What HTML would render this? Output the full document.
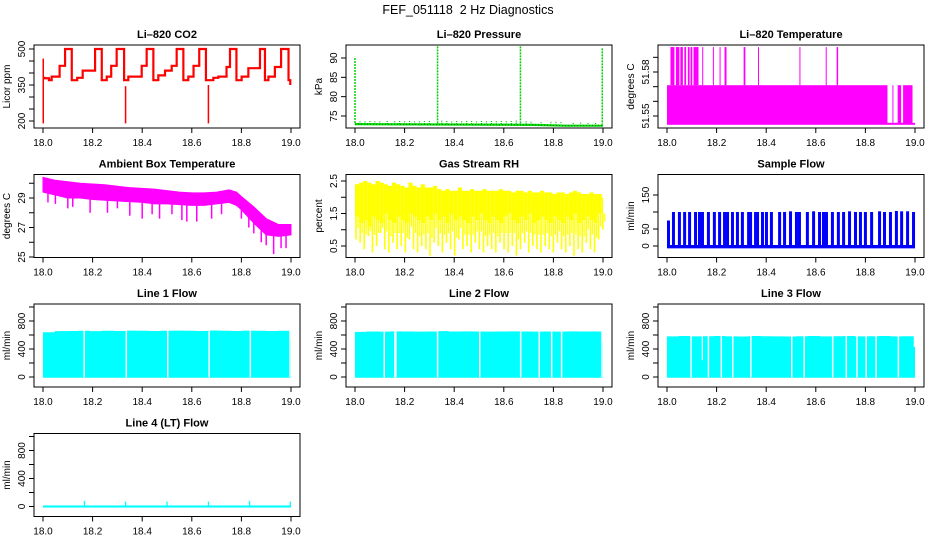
<!DOCTYPE html>
<html><head><meta charset="utf-8"><title>FEF_051118 2 Hz Diagnostics</title>
<style>
html,body{margin:0;padding:0;background:#fff;}
svg{display:block;font-family:"Liberation Sans",Arial,sans-serif;}
.tt{font-size:11px;font-weight:bold;}
.tk{font-size:10px;}
</style></head>
<body>
<svg id="chart" width="936" height="540" viewBox="0 0 936 540" xmlns="http://www.w3.org/2000/svg">
<rect width="936" height="540" fill="#fff"/>
<text x="468" y="14" text-anchor="middle" font-size="12.5">FEF_051118&#160; 2 Hz Diagnostics</text>
</svg>
<script>
// ---------- data ----------
const xTicks = [18.0, 18.2, 18.4, 18.6, 18.8, 19.0];
const xTickLabels = ["18.0", "18.2", "18.4", "18.6", "18.8", "19.0"];

// CO2 stepped series (time, ppm)
const co2Times = [18.000,18.006,18.024,18.035,18.067,18.089,18.116,18.138,18.160,18.210,18.237,18.257,18.275,18.297,18.327,18.344,18.398,18.418,18.445,18.465,18.492,18.519,18.539,18.566,18.586,18.607,18.630,18.657,18.687,18.707,18.740,18.754,18.780,18.801,18.828,18.875,18.895,18.909,18.935,18.960,18.990,18.997];
const co2Vals  = [380,378,370,385,430,500,370,380,410,500,370,385,430,500,370,385,430,500,370,390,410,430,500,370,385,430,500,370,380,385,425,500,370,385,420,500,370,385,425,500,370,350];
const co2SpikeTimes = [18.001, 18.333, 18.667];
const co2SpikeHigh  = [460, 345, 350];
const co2SpikeLow   = [190, 190, 190];

// Pressure
const presBaseTimes = [18.0, 18.72, 18.85, 19.0];
const presBaseVals  = [72.9, 72.7, 72.5, 72.5];
const presBumpTimes = [18.02,18.04,18.06,18.08,18.10,18.13,18.16,18.18,18.20,18.22,18.24,18.26,18.28,18.30,18.35,18.37,18.39,18.41,18.43,18.45,18.47,18.49,18.51,18.53,18.55,18.57,18.59,18.61,18.63,18.65,18.69,18.71,18.75,18.79,18.81,18.83,18.88,18.91,18.94,18.97];
const presBumpVals  = [73.6,73.6,73.7,73.6,73.6,73.7,73.6,73.7,73.6,73.7,73.6,73.6,73.7,73.7,73.8,73.7,73.6,73.7,73.6,73.7,73.7,73.6,73.7,73.6,73.7,73.6,73.7,73.6,73.7,73.8,73.6,73.5,73.4,73.5,73.5,73.4,73.2,73.3,73.2,73.2];
const presSpikeTimes = [18.000, 18.333, 18.667, 18.997];
const presSpikeVals  = [90.0, 93.0, 93.0, 92.5];

// Li-820 temperature levels & spikes
const tempLow = 51.544, tempMid = 51.571, tempTop = 51.597;
const tempMidEnd = 18.99, tempLowEnd = 19.0, tempStart = 18.0;
const tempSpikeStart = [18.014,18.036,18.054,18.070,18.084,18.095,18.107,18.142,18.185,18.212,18.232,18.309,18.367,18.534,18.640,18.684];
const tempSpikeEnd   = [18.030,18.050,18.064,18.077,18.091,18.102,18.127,18.144,18.187,18.214,18.240,18.316,18.369,18.536,18.642,18.690];
const tempGapStart = [18.889, 18.913, 18.944];
const tempGapEnd   = [18.909, 18.930, 18.952];

// Ambient box temperature envelope
const ambTimes = [18.0,18.05,18.1,18.15,18.2,18.25,18.3,18.35,18.4,18.45,18.5,18.55,18.6,18.65,18.7,18.75,18.78,18.8,18.85,18.9,18.95,19.0];
const ambUpper = [30.4,30.2,30.1,30.0,29.95,29.9,29.8,29.7,29.65,29.6,29.5,29.4,29.35,29.35,29.4,29.55,29.4,29.1,28.4,27.6,27.2,27.2];
const ambLower = [29.4,29.2,29.0,29.0,28.9,28.85,28.8,28.75,28.7,28.6,28.6,28.55,28.5,28.5,28.6,28.7,28.5,28.2,27.3,26.5,26.4,26.5];
const ambSpikeTimes = [18.02,18.05,18.1,18.12,18.19,18.26,18.3,18.35,18.4,18.44,18.47,18.52,18.56,18.58,18.62,18.68,18.72,18.8,18.83,18.85,18.88,18.9,18.93,18.96,18.98];
const ambSpikeVals  = [28.7,28.6,28.3,28.4,28.0,28.0,28.3,27.8,27.6,27.9,27.6,27.9,27.5,27.4,27.4,27.6,27.9,27.6,27.0,26.6,26.0,25.8,25.2,25.6,25.6];

// Gas stream RH (61 bins)
const rhMax = [2.4,2.45,2.5,2.45,2.4,2.5,2.45,2.4,2.35,2.45,2.4,2.35,2.3,2.45,2.35,2.3,2.4,2.3,2.3,2.35,2.25,2.2,2.25,2.2,2.2,2.3,2.2,2.2,2.25,2.2,2.2,2.25,2.2,2.2,2.2,2.25,2.2,2.2,2.15,2.2,2.2,2.15,2.2,2.15,2.15,2.2,2.15,2.15,2.1,2.15,2.15,2.1,2.15,2.2,2.15,2.1,2.1,2.15,2.1,2.1,2.0];
const rhMid = [1.4,1.2,1.3,1.1,1.4,1.3,1.2,1.5,1.3,1.2,1.4,1.3,1.2,1.5,1.4,1.3,1.2,1.4,1.3,1.5,1.3,1.4,1.2,1.5,1.3,1.4,1.3,1.2,1.4,1.3,1.5,1.3,1.2,1.4,1.3,1.2,1.4,1.5,1.3,1.2,1.4,1.3,1.5,1.2,1.3,1.4,1.3,1.2,1.4,1.3,1.2,1.4,1.3,1.5,1.2,1.3,1.4,1.3,1.2,1.5,1.5];
const rhMin = [0.7,0.6,0.4,0.8,0.3,0.5,0.9,0.4,0.3,0.6,0.4,0.5,0.3,0.7,0.4,0.3,0.5,0.4,0.2,0.6,0.5,0.3,0.6,0.4,0.2,0.7,0.4,0.5,0.3,0.6,0.4,0.3,0.5,0.4,0.3,0.6,0.4,0.3,0.5,0.2,0.4,0.6,0.3,0.5,0.4,0.3,0.5,0.4,0.3,0.6,0.4,0.3,0.5,0.2,0.4,0.3,0.6,0.4,0.3,0.7,1.0];

// Sample flow pulses
const sampPulseTimes = [18.000,18.020,18.044,18.065,18.085,18.109,18.125,18.137,18.161,18.185,18.206,18.226,18.238,18.258,18.278,18.298,18.323,18.331,18.351,18.359,18.379,18.395,18.415,18.448,18.468,18.492,18.516,18.528,18.560,18.585,18.609,18.625,18.637,18.661,18.685,18.706,18.730,18.754,18.774,18.794,18.819,18.851,18.871,18.895,18.919,18.940,18.964,18.988];
const sampPulseVals  = [75,100,100,100,100,100,100,100,100,100,100,100,100,100,100,100,100,100,100,100,100,100,100,100,100,102,100,100,100,102,100,100,100,100,100,100,102,100,100,100,100,102,100,100,103,102,102,100];
const sampBase = -4;

// Line flows
const line1Top = [640,655,658,660,655,660,658,662,660,658,660,662,660,658,665,660,658,662,660,658,660];
const line1Gaps = [18.163,18.333,18.5,18.667,18.833,18.993];
const line1End = 540;
const line2Top = [645,650,648,652,650,648,650,655,650,652,650,648,650,652,650,648,650,648,652,650,650];
const line2Gaps = [18.115,18.158,18.162,18.33,18.5,18.665,18.74,18.79,18.83,18.993];
const line2End = 500;
const line3Top = [580,585,580,582,585,580,578,585,582,580,578,582,585,580,582,585,580,582,585,580,582];
const line3Gaps = [18.094,18.164,18.216,18.262,18.335,18.5,18.55,18.665,18.72,18.763,18.8,18.84,18.93];
const line3PartialGap = [18.14];
const line3End = 430;
const line4Base = 0;
const line4SpikeTimes = [18.167,18.333,18.5,18.667,18.833,18.997];
const line4SpikeVals  = [80,70,70,70,80,70];

// ---------- layout ----------
const NS = "http://www.w3.org/2000/svg";
const svg = document.getElementById("chart");
const COLS = [34, 346, 658], ROWS = [45, 174.5, 304, 433.5], PW = 266, PH = 83;

function add(parent, tag, attrs, txt) {
  const el = document.createElementNS(NS, tag);
  for (const k in attrs) el.setAttribute(k, attrs[k]);
  if (txt !== undefined) el.textContent = txt;
  parent.appendChild(el);
  return el;
}
function interp(ts, vs, t) {
  for (let i = 1; i < ts.length; i++) {
    if (t <= ts[i]) { const f = (t - ts[i - 1]) / (ts[i] - ts[i - 1]); return vs[i - 1] + f * (vs[i] - vs[i - 1]); }
  }
  return vs[vs.length - 1];
}

function makePanel(id, r, c, title, ylab, yTicks, yLabels, va, pa, vb, pb) {
  const L = COLS[c], T = ROWS[r];
  const g = add(svg, "g", {});
  
  
  const x = t => L + 9 + (t - 18) * 248;
  const k = (pb - pa) / (vb - va);
  const y = v => T + pa + (v - va) * k;
  const cp = add(g, "clipPath", { id: "clip-" + id });
  add(cp, "rect", { x: L, y: T, width: PW, height: PH });
  const marks = add(g, "g", { "clip-path": "url(#clip-" + id + ")" });
  
  
  const tt = add(g, "text", { x: L + PW / 2, y: T - 7, "text-anchor": "middle", class: "tt" }, title);
  
  
  const yl = add(g, "text", { x: 0, y: 0, "text-anchor": "middle", class: "tk", transform: `translate(${L - 24},${T + PH / 2}) rotate(-90)` }, ylab);
  
  
  const xa = add(g, "g", {});
  
  
  xTicks.forEach((t, i) => {
    add(xa, "line", { x1: x(t), x2: x(t), y1: T + PH, y2: T + PH + 5, stroke: "#000", "stroke-width": 1 });
    const lb = add(xa, "text", { x: x(t), y: T + PH + 18, "text-anchor": "middle", class: "tk" }, xTickLabels[i]);
    
    
  });
  const ya = add(g, "g", {});
  
  
  yTicks.forEach(v => {
    add(ya, "line", { x1: L - 5, x2: L, y1: y(v), y2: y(v), stroke: "#000", "stroke-width": 1 });
  });
  yLabels.forEach(v => {
    const lb = add(ya, "text", { x: 0, y: 0, "text-anchor": "middle", class: "tk", transform: `translate(${L - 9},${y(v)}) rotate(-90)` }, String(v));
    
    
  });
  return { g, marks, x, y, L, T };
}
function finishBox(p) {
  const b = add(p.g, "rect", { x: p.L, y: p.T, width: PW, height: PH, fill: "none", stroke: "#000", "stroke-width": 1 });
  
  
}

// ---------- CO2 ----------
(function () {
  const p = makePanel("co2", 0, 0, "Li\u2013820 CO2", "Licor ppm", [200,250,300,350,400,450,500], [200,350,500], 500, 4, 200, 76);
  let d = "";
  co2Times.forEach((t, i) => {
    if (i === 0) d += `M${p.x(t)},${p.y(co2Vals[i])}`;
    else d += `H${p.x(t)}V${p.y(co2Vals[i])}`;
  });
  const path = add(p.marks, "path", { d, fill: "none", stroke: "#f00", "stroke-width": 2.2 });
  
  
  co2SpikeTimes.forEach((t, i) => {
    const s = add(p.marks, "line", { x1: p.x(t), x2: p.x(t), y1: p.y(co2SpikeHigh[i]), y2: p.y(co2SpikeLow[i]), stroke: "#f00", "stroke-width": 1.5 });
    
    
  });
  finishBox(p);
})();

// ---------- Pressure ----------
(function () {
  const p = makePanel("pressure", 0, 1, "Li\u2013820 Pressure", "kPa", [75,80,85,90], [75,80,85,90], 90, 13, 75, 71);
  let d = "";
  presBaseTimes.forEach((t, i) => { d += (i ? "L" : "M") + p.x(t) + "," + p.y(presBaseVals[i]); });
  const bl = add(p.marks, "path", { d, fill: "none", stroke: "#00e000", "stroke-width": 2.2 });
  
  
  const dl = add(p.marks, "path", { d, fill: "none", stroke: "#006400", "stroke-width": 1, "stroke-dasharray": "1 2" });
  
  
  presBumpTimes.forEach((t, i) => {
    const b = add(p.marks, "line", { x1: p.x(t), x2: p.x(t), y1: p.y(presBumpVals[i]), y2: p.y(72.9), stroke: "#00c000", "stroke-width": 1.2, "stroke-dasharray": "1 1" });
    
    
  });
  presSpikeTimes.forEach((t, i) => {
    const s = add(p.marks, "line", { x1: p.x(t), x2: p.x(t), y1: p.y(presSpikeVals[i]), y2: p.y(72.8), stroke: "#00d000", "stroke-width": 1.5, "stroke-dasharray": "2 1" });
    
    
  });
  finishBox(p);
})();

// ---------- Li-820 Temperature ----------
(function () {
  const p = makePanel("temperature", 0, 2, "Li\u2013820 Temperature", "degrees C", [51.55,51.56,51.57,51.58,51.59], ["51.55","51.58"], 51.58, 27, 51.55, 71);
  const m = "#ff00ff";
  const low = add(p.marks, "rect", { x: p.x(tempStart), y: p.y(tempMid), width: p.x(tempLowEnd) - p.x(tempStart), height: p.y(tempLow) - p.y(tempMid), fill: m });
  
  
  const cut = add(p.marks, "rect", { x: p.x(tempMidEnd), y: p.y(tempMid) - 1, width: p.x(tempLowEnd) - p.x(tempMidEnd) + 1, height: p.y(tempLow) - p.y(tempMid) - 1, fill: "#fff" });
  
  
  tempGapStart.forEach((t, i) => {
    const gp = add(p.marks, "rect", { x: p.x(t), y: p.y(tempMid) - 1, width: p.x(tempGapEnd[i]) - p.x(t), height: p.y(tempLow) - p.y(tempMid) - 1, fill: "#fff" });
    
    
  });
  tempSpikeStart.forEach((t, i) => {
    const s = add(p.marks, "rect", { x: p.x(t), y: p.y(tempTop), width: Math.max(1, p.x(tempSpikeEnd[i]) - p.x(t)), height: p.y(tempMid) - p.y(tempTop), fill: m });
    
    
  });
  finishBox(p);
})();

// ---------- Ambient ----------
(function () {
  const p = makePanel("ambient", 1, 0, "Ambient Box Temperature", "degrees C", [25,26,27,28,29,30], [25,27,29], 29, 23.5, 25, 82.5);
  let d = "";
  ambTimes.forEach((t, i) => { d += (i ? "L" : "M") + p.x(t) + "," + p.y(ambUpper[i]); });
  for (let i = ambTimes.length - 1; i >= 0; i--) d += "L" + p.x(ambTimes[i]) + "," + p.y(ambLower[i]);
  const band = add(p.marks, "path", { d: d + "Z", fill: "#ff00ff", stroke: "#ff00ff", "stroke-width": 1 });
  
  
  ambSpikeTimes.forEach((t, i) => {
    const top = interp(ambTimes, ambLower, t) + 0.2;
    const s = add(p.marks, "line", { x1: p.x(t), x2: p.x(t), y1: p.y(ambSpikeVals[i]), y2: p.y(top), stroke: "#ff00ff", "stroke-width": 1.5 });
    
    
  });
  finishBox(p);
})();

// ---------- RH ----------
(function () {
  const p = makePanel("rh", 1, 1, "Gas Stream RH", "percent", [0.5,1.0,1.5,2.0,2.5], ["0.5","1.5","2.5"], 2.5, 6.5, 0.5, 71.5);
  const n = rhMax.length;
  for (let i = 0; i < n; i++) {
    const t0 = 18 + i / (n - 1) * 0.995, t1 = 18 + (i + 1) / (n - 1) * 0.995;
    const w = Math.max(1, Math.min(p.x(19), p.x(t1)) - p.x(t0));
    const r = add(p.marks, "rect", { x: p.x(t0), y: p.y(rhMax[i]), width: w, height: p.y(rhMid[i]) - p.y(rhMax[i]), fill: "#ffff00" });
    
    
    const l = add(p.marks, "line", { x1: p.x(t0) + 1, x2: p.x(t0) + 1, y1: p.y(rhMid[i]), y2: p.y(rhMin[i]), stroke: "#ffff00", "stroke-width": 1.6 });
    
    
    const l2 = add(p.marks, "line", { x1: p.x(t0) + 3, x2: p.x(t0) + 3, y1: p.y(rhMid[i]), y2: p.y((rhMid[i] + rhMin[i]) / 2), stroke: "#ffff00", "stroke-width": 1.2 });
    
    
  }
  finishBox(p);
})();

// ---------- Sample flow ----------
(function () {
  const p = makePanel("sample", 1, 2, "Sample Flow", "ml/min", [0,50,100,150], [0,50,150], 150, 20.5, 0, 71.5);
  const base = add(p.marks, "rect", { x: p.x(18), y: p.y(0) - 1, width: p.x(19) - p.x(18), height: p.y(sampBase) - p.y(0) + 2, fill: "#0000ff" });
  
  
  sampPulseTimes.forEach((t, i) => {
    const s = add(p.marks, "rect", { x: p.x(t), y: p.y(sampPulseVals[i]), width: 3, height: p.y(sampBase) - p.y(sampPulseVals[i]), fill: "#0000ff" });
    
    
  });
  finishBox(p);
})();

// ---------- Line flows ----------
function flowPanel(id, r, c, title, tops, gaps, endVal, partial) {
  const p = makePanel(id, r, c, title, "ml/min", [0,200,400,600,800,1000], [0,400,800], 800, 17, 0, 73);
  const n = tops.length;
  let d = `M${p.x(18)},${p.y(-10)}`;
  for (let i = 0; i < n; i++) {
    const t1 = 18 + (i + 1) / n * 0.995;
    d += `V${p.y(tops[i])}H${p.x(t1)}`;
  }
  d += `V${p.y(endVal)}H${p.x(19)}V${p.y(-10)}Z`;
  const a = add(p.marks, "path", { d, fill: "#00ffff" });
  
  
  gaps.forEach(t => {
    const gp = add(p.marks, "rect", { x: p.x(t), y: p.y(1000), width: 1.5, height: p.y(-5) - p.y(1000), fill: "#fff" });
    
    
  });
  (partial || []).forEach(t => {
    const gp = add(p.marks, "rect", { x: p.x(t), y: p.y(1000), width: 1.2, height: p.y(240) - p.y(1000), fill: "#fff" });
    
    
  });
  finishBox(p);
  return p;
}
flowPanel("line1", 2, 0, "Line 1 Flow", line1Top, line1Gaps, line1End);
flowPanel("line2", 2, 1, "Line 2 Flow", line2Top, line2Gaps, line2End);
flowPanel("line3", 2, 2, "Line 3 Flow", line3Top, line3Gaps, line3End, line3PartialGap);

(function () {
  const p = makePanel("line4", 3, 0, "Line 4 (LT) Flow", "ml/min", [0,200,400,600,800,1000], [0,400,800], 800, 17, 0, 73);
  const b = add(p.marks, "rect", { x: p.x(18), y: p.y(line4Base + 15), width: p.x(19) - p.x(18), height: p.y(-15) - p.y(15), fill: "#00ffff" });
  
  
  line4SpikeTimes.forEach((t, i) => {
    const s = add(p.marks, "line", { x1: p.x(t), x2: p.x(t), y1: p.y(line4SpikeVals[i]), y2: p.y(0), stroke: "#00ffff", "stroke-width": 1.3 });
    
    
  });
  finishBox(p);
})();
</script>
</body></html>
